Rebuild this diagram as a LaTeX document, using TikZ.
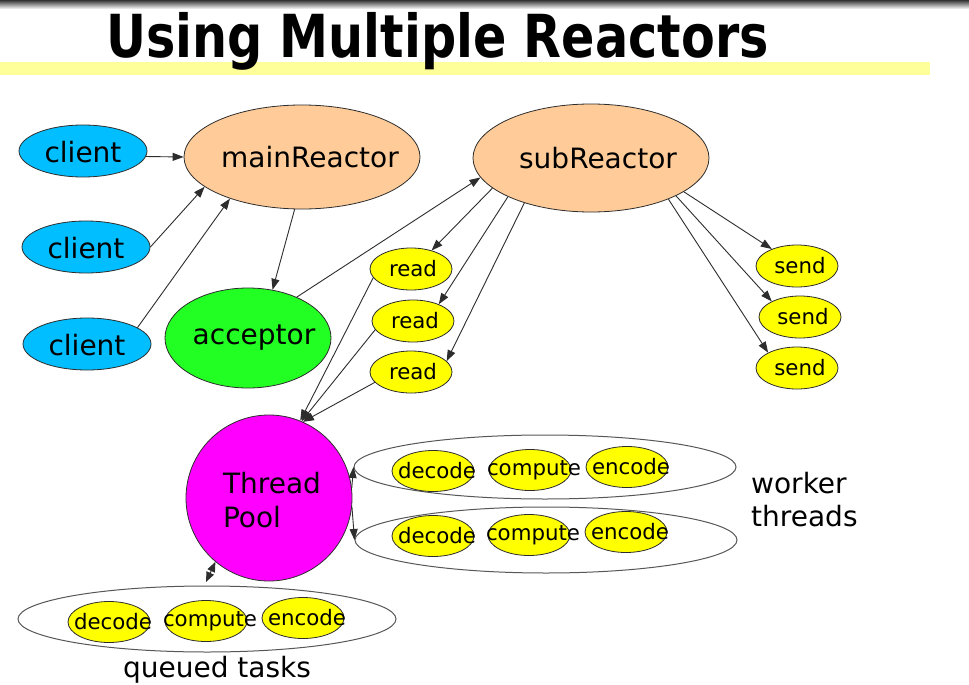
\documentclass[tikz,border=0pt]{standalone}
\usepackage{fontspec}
\setmainfont{DejaVu Sans}
\usetikzlibrary{shapes.geometric,arrows.meta}
\definecolor{clientblue}{RGB}{0,190,255}
\definecolor{peach}{RGB}{255,204,153}
\definecolor{accgreen}{RGB}{34,255,34}
\definecolor{poolmag}{RGB}{255,0,255}
\definecolor{taskyellow}{RGB}{255,255,0}
\definecolor{baryellow}{RGB}{255,255,153}
\definecolor{edgegray}{RGB}{45,45,45}
\begin{document}
\begin{tikzpicture}[x=1pt,y=-1pt,
  ell/.style={ellipse, draw=edgegray, line width=0.8pt, inner sep=0pt},
  big/.style={font=\fontsize{28}{34}\selectfont},
  small/.style={font=\fontsize{21.3}{24}\selectfont},
  readell/.style={ell, fill=taskyellow, minimum width=82pt, minimum height=42pt},
  taskell/.style={ell, fill=taskyellow, minimum width=82pt, minimum height=41pt},
  groupell/.style={ellipse, draw=edgegray!80, line width=1pt, inner sep=0pt},
  arr/.style={draw=edgegray, line width=0.9pt, -{Triangle[length=11pt,width=8pt]}},
  darr/.style={draw=edgegray, line width=0.9pt, {Triangle[length=10pt,width=8pt]}-{Triangle[length=10pt,width=8pt]}},
]
\useasboundingbox (0,0) rectangle (969,685);
\fill[white] (0,0) rectangle (969,685);
% top shadow and title bar
\shade[top color=black!80, bottom color=white] (0,0) rectangle (969,9);
\fill[baryellow] (0,62) rectangle (930,75);
\node[anchor=base west, inner sep=0pt] (title) at (106,58)
  {\scalebox{0.855}[1.03]{\fontsize{57.6}{60}\selectfont\bfseries Using Multiple Reactors}};

% clients
\node[ell, fill=clientblue, minimum width=128pt, minimum height=52pt,
      label={[big,yshift=-1pt]center:client}] (c1) at (83,151) {};
\node[ell, fill=clientblue, minimum width=128pt, minimum height=52pt,
      label={[big,yshift=-1pt]center:client}] (c2) at (86,247) {};
\node[ell, fill=clientblue, minimum width=128pt, minimum height=52pt,
      label={[big,yshift=-1pt]center:client}] (c3) at (87,344) {};

% reactors
\node[ell, fill=peach, minimum width=236pt, minimum height=104pt,
      label={[big,xshift=8pt]center:mainReactor}] (mr) at (302,157) {};
\node[ell, fill=peach, minimum width=236pt, minimum height=108pt,
      label={[big,xshift=7pt]center:subReactor}] (sr) at (591,158) {};
\node[ell, fill=accgreen, minimum width=166pt, minimum height=100pt,
      label={[big,xshift=6pt]center:acceptor}] (acc) at (248,338) {};

% read / send
\node[readell, label={[small,xshift=2pt]center:read}] (r1) at (411,269) {};
\node[readell, label={[small,xshift=2pt]center:read}] (r2) at (413,321) {};
\node[readell, label={[small,xshift=2pt]center:read}] (r3) at (411,372) {};
\node[readell, label={[small,xshift=3pt]center:send}] (s1) at (797,266) {};
\node[readell, label={[small,xshift=3pt]center:send}] (s2) at (800,317) {};
\node[readell, label={[small,xshift=3pt]center:send}] (s3) at (797,368) {};

% thread pool
\node[circle, draw=edgegray, line width=0.8pt, fill=poolmag, minimum size=166pt, inner sep=0pt,
      label={[big,align=left,xshift=3pt,yshift=-2pt]center:{Thread\\Pool}}] (tp) at (269,498) {};

% worker threads
\node[groupell, minimum width=382pt, minimum height=64pt] (w1) at (545,467) {};
\node[groupell, minimum width=382pt, minimum height=66pt] (w2) at (546,540) {};
\node[taskell, label={[small,xshift=4pt]center:decode}] (w1d) at (433,471) {};
\node[taskell, label={[small,xshift=4pt]center:compute}] (w1c) at (530,470) {};
\node[taskell, label={[small,xshift=4pt]center:encode}] (w1e) at (627,467) {};
\node[taskell, label={[small,xshift=4pt]center:decode}] (w2d) at (433,536) {};
\node[taskell, label={[small,xshift=4pt]center:compute}] (w2c) at (529,535) {};
\node[taskell, label={[small,xshift=4pt]center:encode}] (w2e) at (626,532) {};
\node[big, anchor=base west, inner sep=0pt] (wt1) at (751,493) {worker};
\node[big, anchor=base west, inner sep=0pt] (wt2) at (751,526) {threads};

% queued tasks
\node[groupell, minimum width=378pt, minimum height=66pt] (q) at (207,619) {};
\node[taskell, label={[small,xshift=4pt]center:decode}] (qd) at (109,622) {};
\node[taskell, label={[small,xshift=4pt]center:compute}] (qc) at (206,621) {};
\node[taskell, label={[small,xshift=4pt]center:encode}] (qe) at (303,618) {};
\node[big, anchor=base, inner sep=0pt] (qt) at (217,677) {queued tasks};
\coordinate (qtop) at (206,582);

% connectors
\draw[arr] (c1.-5) -- (mr.west);
\draw[arr] (c2.east) -- (mr.197);
\draw[arr] (c3.18) -- (mr.210);
\draw[arr] (mr.262) -- (acc.63);
\draw[arr] (acc.40) -- (sr.190);
\draw[arr] (sr.197) -- (r1.42);
\draw[arr] (sr.205) -- (r2.33);
\draw[arr] (sr.214) -- (r3.17);
\draw[arr] (sr.-20) -- (s1.146);
\draw[arr] (sr.-24) -- (s2.151);
\draw[arr] (sr.-28) -- (s3.152);
\draw[arr] (r1.193) -- (tp.68);
\draw[arr] (r2.193) -- (tp.67);
\draw[arr] (r3.196) -- (tp.66);
\draw[arr] (tp.7) -- (w1.west);
\draw[arr] (tp.-6) -- (w2.west);
\draw[darr] (tp.230) -- (qtop);
\end{tikzpicture}
\end{document}
